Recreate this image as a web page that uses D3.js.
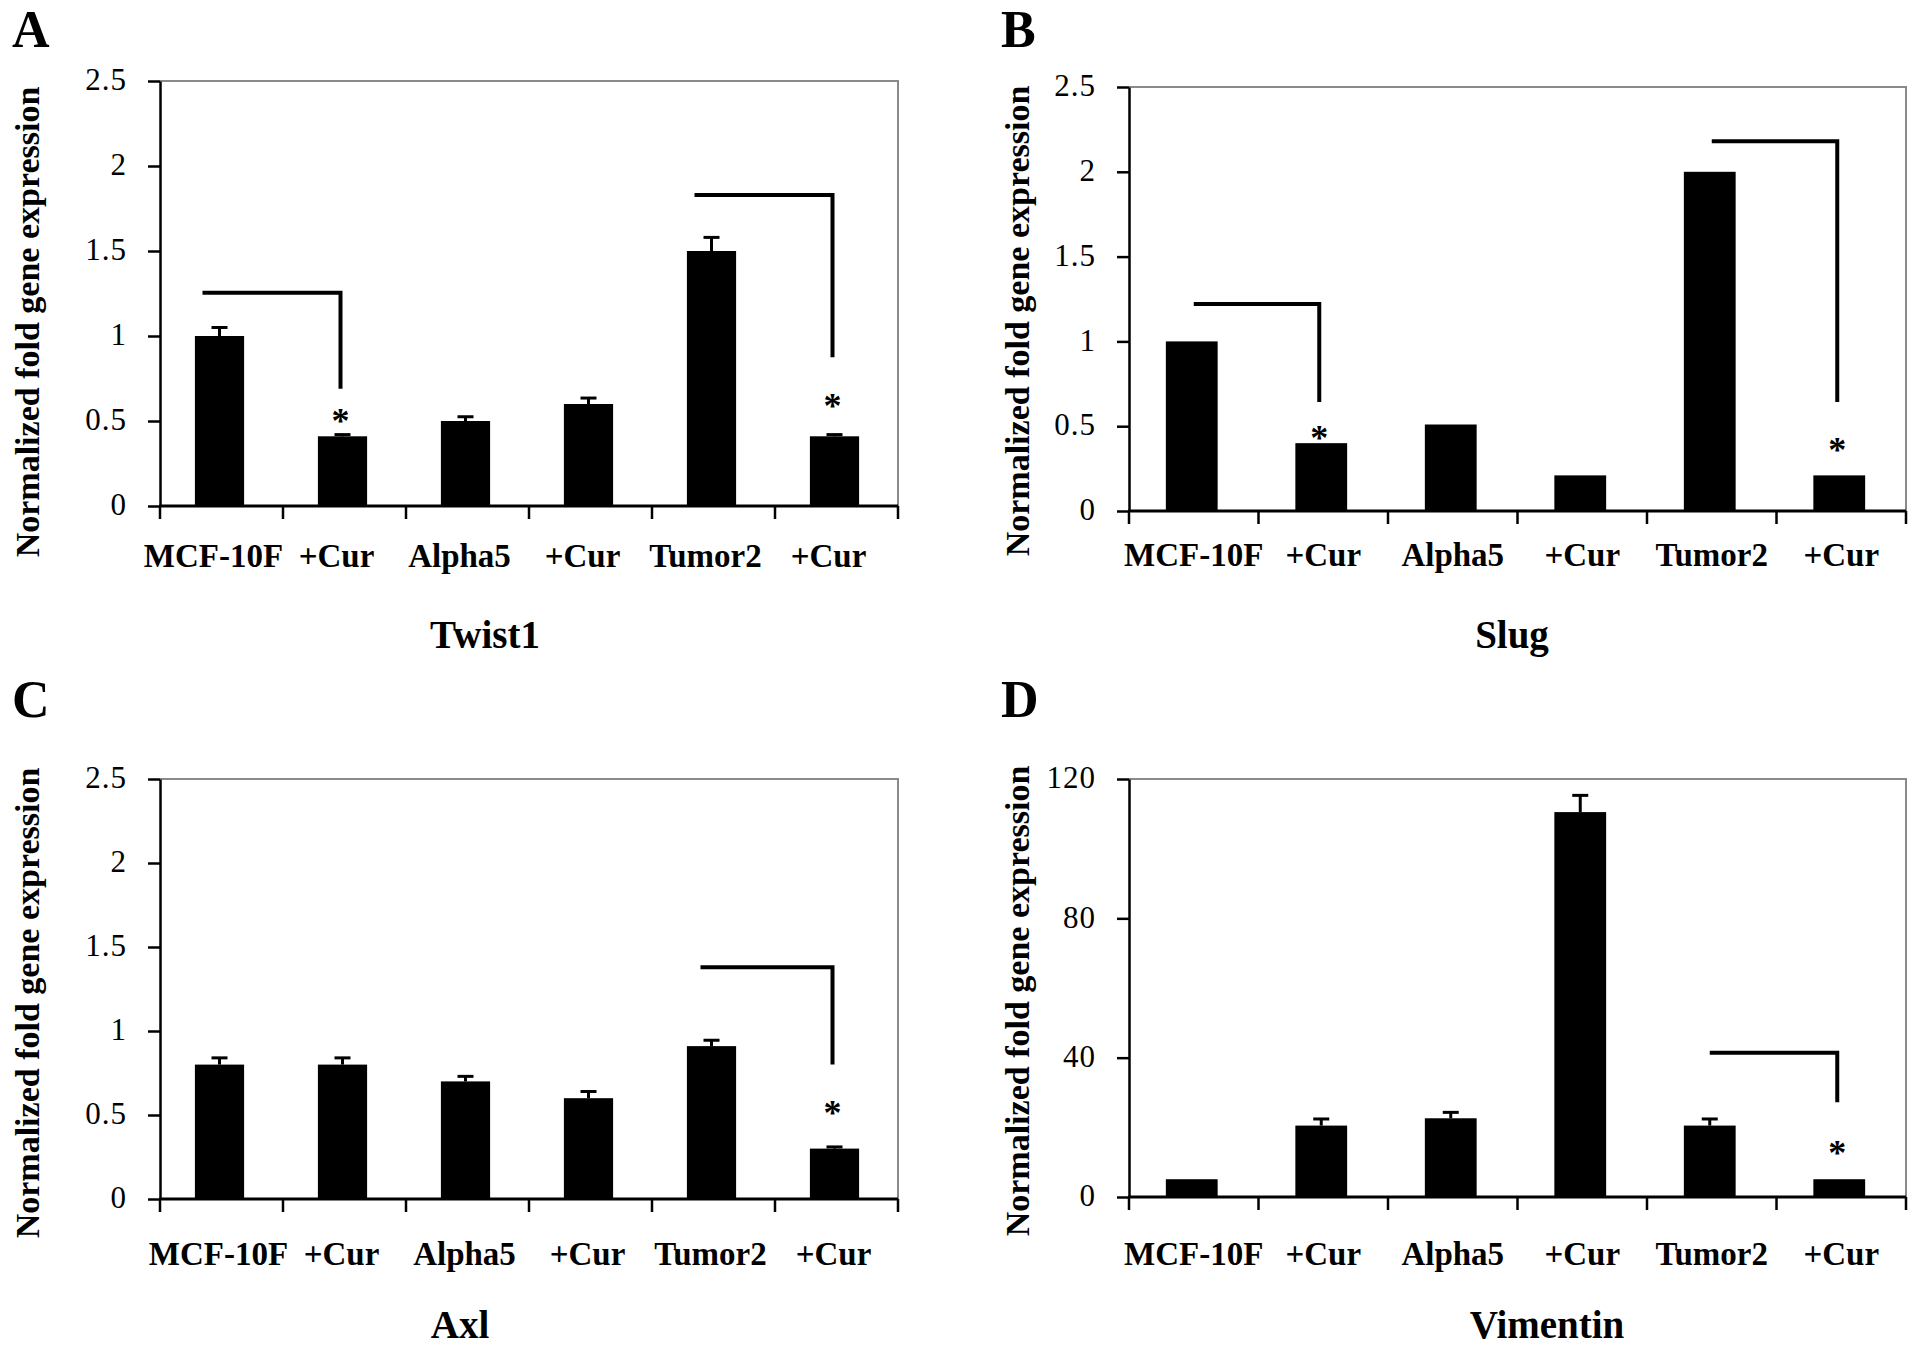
<!DOCTYPE html>
<html>
<head>
<meta charset="utf-8">
<script src="https://cdn.jsdelivr.net/npm/d3@7"></script>
<style>
  body { margin: 0; background: #fff; }
  text { font-family: "Liberation Serif", "Times New Roman", serif; fill: #000; }
</style>
</head>
<body>
<script>
// categories shared by all four panels
const categories = ["MCF-10F", "+Cur", "Alpha5", "+Cur", "Tumor2", "+Cur"];

const foldTicks = [0, 0.5, 1, 1.5, 2, 2.5];
const vimentinTicks = [0, 40, 80, 120];

// A - Twist1
const twist1Values = [1.0, 0.41, 0.5, 0.6, 1.5, 0.41];
const twist1Errors = [0.05, 0.01, 0.025, 0.035, 0.08, 0.01];
const twist1Brackets = [[0, 1, 1.255, 0.69], [4, 5, 1.83, 0.875]]; // from, to, top, bottom
const twist1Stars = [[1, 0.53], [5, 0.62]];

// B - Slug (no error bars)
const slugValues = [1.0, 0.4, 0.51, 0.21, 2.0, 0.21];
const slugErrors = [0, 0, 0, 0, 0, 0];
const slugBrackets = [[0, 1, 1.22, 0.643], [4, 5, 2.18, 0.643]];
const slugStars = [[1, 0.46], [5, 0.39]];

// C - Axl
const axlValues = [0.8, 0.8, 0.7, 0.6, 0.91, 0.3];
const axlErrors = [0.04, 0.04, 0.03, 0.04, 0.035, 0.01];
const axlBrackets = [[4, 5, 1.38, 0.8]];
const axlStars = [[5, 0.54]];

// D - Vimentin
const vimentinValues = [5.1, 20.5, 22.6, 110.5, 20.5, 5.1];
const vimentinErrors = [0, 1.9, 1.7, 4.8, 1.9, 0];
const vimentinBrackets = [[4, 5, 41.4, 27.2]];
const vimentinStars = [[5, 14.2]];

// panel layout (pixels)
const panels = [
  { letter: "A", gene: "Twist1", values: twist1Values, errors: twist1Errors, ticks: foldTicks,
    brackets: twist1Brackets, stars: twist1Stars,
    left: 160, right: 898, top: 81, bottom: 506, letterX: 12, letterY: 47,
    titleX: 39, titleY: 322, labelY: 567, labelDx: -8, geneX: 485, geneY: 648, bracketDx: -19 },
  { letter: "B", gene: "Slug", values: slugValues, errors: slugErrors, ticks: foldTicks,
    brackets: slugBrackets, stars: slugStars,
    left: 1129, right: 1906, top: 87, bottom: 511, letterX: 1001, letterY: 47,
    titleX: 1029, titleY: 321, labelY: 566, labelDx: 0, geneX: 1512, geneY: 648, bracketDx: 0 },
  { letter: "C", gene: "Axl", values: axlValues, errors: axlErrors, ticks: foldTicks,
    brackets: axlBrackets, stars: axlStars,
    left: 160, right: 898, top: 779, bottom: 1199, letterX: 12, letterY: 717,
    titleX: 39, titleY: 1003, labelY: 1265, labelDx: -3, geneX: 460, geneY: 1338, bracketDx: -13 },
  { letter: "D", gene: "Vimentin", values: vimentinValues, errors: vimentinErrors, ticks: vimentinTicks,
    brackets: vimentinBrackets, stars: vimentinStars,
    left: 1129, right: 1906, top: 779, bottom: 1197, letterX: 1001, letterY: 717,
    titleX: 1029, titleY: 1001, labelY: 1265, labelDx: 0, geneX: 1547, geneY: 1338, bracketDx: -2 }
];

const svg = d3.select("body").append("svg")
  .attr("width", 1913)
  .attr("height", 1351)
  .style("display", "block");

function drawPanel(p) {
  const g = svg.append("g");
  const idx = d3.range(categories.length);

  const x = d3.scaleBand()
    .domain(idx)
    .range([p.left, p.right])
    .paddingInner(0.6)
    .paddingOuter(0.3);
  const y = d3.scaleLinear()
    .domain([d3.min(p.ticks), d3.max(p.ticks)])
    .range([p.bottom, p.top]);
  const step = x.step();
  const cx = i => x(i) + x.bandwidth() / 2;

  // grey frame on top and right
  g.append("path")
    .attr("d", `M${p.left},${p.top}H${p.right}V${p.bottom}`)
    .attr("fill", "none")
    .attr("stroke", "#8a8a8a")
    .attr("stroke-width", 2);

  // bars
  g.selectAll("rect.bar")
    .data(p.values)
    .enter()
    .append("rect")
    .attr("class", "bar")
    .attr("x", (d, i) => x(i) - 2)
    .attr("y", d => y(d))
    .attr("width", x.bandwidth())
    .attr("height", d => y(0) - y(d))
    .attr("fill", "#000");

  // error bars (upper only)
  const err = idx.filter(i => p.errors[i] > 0);
  g.selectAll("line.err")
    .data(err)
    .enter()
    .append("line")
    .attr("x1", i => cx(i) - 2)
    .attr("x2", i => cx(i) - 2)
    .attr("y1", i => y(p.values[i]))
    .attr("y2", i => y(p.values[i] + p.errors[i]))
    .attr("stroke", "#000")
    .attr("stroke-width", 3);
  g.selectAll("line.cap")
    .data(err)
    .enter()
    .append("line")
    .attr("x1", i => cx(i) - 10)
    .attr("x2", i => cx(i) + 6)
    .attr("y1", i => y(p.values[i] + p.errors[i]))
    .attr("y2", i => y(p.values[i] + p.errors[i]))
    .attr("stroke", "#000")
    .attr("stroke-width", 3);

  // y axis
  const yAxis = d3.axisLeft(y)
    .tickValues(p.ticks)
    .tickSize(12)
    .tickSizeOuter(0)
    .tickPadding(21)
    .tickFormat(d => String(d));
  const ya = g.append("g")
    .attr("transform", `translate(${p.left},0)`)
    .call(yAxis);
  ya.select(".domain").attr("stroke", "#000").attr("stroke-width", 2.5);
  ya.selectAll(".tick line").attr("stroke", "#000").attr("stroke-width", 2.5);
  ya.selectAll(".tick text")
    .attr("font-size", 31)
    .attr("letter-spacing", 1)
    .attr("dy", "0.28em")
    .attr("fill", "#000");

  // x axis: zero line, boundary ticks, category labels
  g.append("line")
    .attr("x1", p.left - 1)
    .attr("x2", p.right)
    .attr("y1", y(0))
    .attr("y2", y(0))
    .attr("stroke", "#000")
    .attr("stroke-width", 3);
  g.selectAll("line.bound")
    .data(d3.range(categories.length + 1))
    .enter()
    .append("line")
    .attr("x1", k => p.left + k * step)
    .attr("x2", k => p.left + k * step)
    .attr("y1", y(0))
    .attr("y2", y(0) + 13)
    .attr("stroke", "#000")
    .attr("stroke-width", 2.5);

  const xAxis = d3.axisBottom(x)
    .tickSize(0)
    .tickSizeOuter(0)
    .tickFormat(i => categories[i]);
  const xa = g.append("g")
    .attr("transform", `translate(0,${p.bottom})`)
    .call(xAxis);
  xa.select(".domain").remove();
  xa.selectAll(".tick text")
    .attr("x", p.labelDx)
    .attr("y", p.labelY - p.bottom)
    .attr("dy", 0)
    .attr("font-size", 33)
    .attr("font-weight", "bold")
    .attr("fill", "#000");

  // significance brackets
  g.selectAll("path.bracket")
    .data(p.brackets)
    .enter()
    .append("path")
    .attr("d", b => `M${cx(b[0]) + p.bracketDx},${y(b[2])}H${cx(b[1]) - 4}V${y(b[3])}`)
    .attr("fill", "none")
    .attr("stroke", "#000")
    .attr("stroke-width", 4);

  g.selectAll("text.star")
    .data(p.stars)
    .enter()
    .append("text")
    .attr("x", s => cx(s[0]) - 4)
    .attr("y", s => y(s[1]) + 17)
    .attr("text-anchor", "middle")
    .attr("font-size", 36)
    .attr("font-weight", "bold")
    .text("*");

  // titles
  g.append("text")
    .attr("transform", `translate(${p.titleX},${p.titleY}) rotate(-90)`)
    .attr("text-anchor", "middle")
    .attr("font-size", 34)
    .attr("font-weight", "bold")
    .text("Normalized fold gene expression");

  g.append("text")
    .attr("x", p.geneX)
    .attr("y", p.geneY)
    .attr("text-anchor", "middle")
    .attr("font-size", 39)
    .attr("font-weight", "bold")
    .text(p.gene);

  g.append("text")
    .attr("x", p.letterX)
    .attr("y", p.letterY)
    .attr("font-size", 52)
    .attr("font-weight", "bold")
    .text(p.letter);
}

panels.forEach(drawPanel);
</script>
</body>
</html>
